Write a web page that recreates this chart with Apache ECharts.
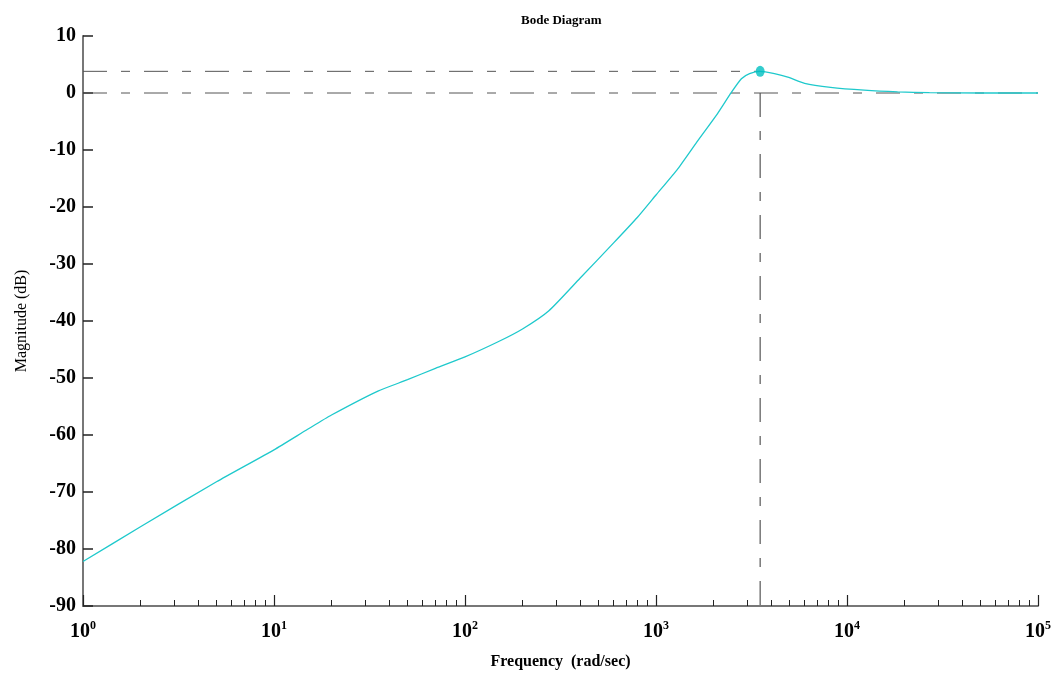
<!DOCTYPE html>
<html><head><meta charset="utf-8">
<script src="https://cdn.jsdelivr.net/npm/echarts@6/dist/echarts.min.js"></script>
<style>html,body{margin:0;padding:0;background:#fff}#c{width:1054px;height:675px}</style>
</head><body><div id="c"></div>
<script>
// ---- data ----
const freq = [1, 2, 5, 10, 15, 20, 35, 50, 70, 100, 150, 200, 275, 400, 600, 800, 1000, 1300, 1660, 2100, 2480, 2800, 3090, 3510, 4170, 4900, 6000, 8200, 12300, 18400, 27000, 50000, 100000];
const magnitude = [-82.2, -76.1, -68.2, -62.6, -59.0, -56.5, -52.3, -50.3, -48.3, -46.3, -43.6, -41.4, -38.2, -32.5, -26.3, -21.8, -17.9, -13.3, -8.3, -3.6, 0.1, 2.5, 3.4, 3.8, 3.4, 2.8, 1.7, 1.0, 0.5, 0.2, 0.05, 0.0, 0.0];
const peakFreq = 3510;
const peakMag = 3.8;
const refMag = 0;
const yTicks = [-90, -80, -70, -60, -50, -40, -30, -20, -10, 0, 10];
const xMajorTicks = [1, 10, 100, 1000, 10000, 100000];
const xMinorTicks = [2,3,4,5,6,7,8,9, 20,30,40,50,60,70,80,90, 200,300,400,500,600,700,800,900, 2000,3000,4000,5000,6000,7000,8000,9000, 20000,30000,40000,50000,60000,70000,80000,90000];
const xMin = 1, xMax = 100000;
const yMin = -90, yMax = 10;
const titleText = 'Bode Diagram';
const xName = 'Frequency  (rad/sec)';
const yName = 'Magnitude (dB)';

const FONT = 'Liberation Serif';
const dashPattern = [24, 14, 9, 14];

const chart = echarts.init(document.getElementById('c'), null, {renderer: 'canvas'});
const curve = freq.map((f, i) => [f, magnitude[i]]);

chart.setOption({
  animation: false,
  backgroundColor: '#fff',
  title: {
    text: titleText, left: 516, top: 9,
    textStyle: {fontFamily: FONT, fontWeight: 'bold', fontSize: 13, color: '#000'}
  },
  grid: {left: 83, right: 13, top: 36, bottom: 68, containLabel: false},
  xAxis: [{
    type: 'log', logBase: 10, min: xMin, max: xMax,
    position: 'bottom',
    name: xName, nameLocation: 'middle', nameGap: 48,
    nameTextStyle: {fontFamily: FONT, fontWeight: 'bold', fontSize: 16, color: '#000'},
    axisLine: {show: true, onZero: false, lineStyle: {color: '#777', width: 2}},
    axisTick: {show: true, inside: true, length: 11, customValues: xMajorTicks, lineStyle: {color: '#222', width: 1.2}},
    axisLabel: {
      show: true, customValues: xMajorTicks, margin: 14,
      formatter: v => '{b|10}{s|' + Math.round(Math.log10(v)) + '}',
      rich: {
        b: {fontFamily: FONT, fontWeight: 'bold', fontSize: 20, color: '#000', lineHeight: 24},
        s: {fontFamily: FONT, fontWeight: 'bold', fontSize: 12, color: '#000', verticalAlign: 'top', lineHeight: 12}
      }
    },
    splitLine: {show: false}, minorTick: {show: false}
  }, {
    type: 'log', logBase: 10, min: xMin, max: xMax,
    position: 'bottom', gridIndex: 0,
    axisLine: {show: false, onZero: false},
    axisTick: {show: true, inside: true, length: 6, customValues: xMinorTicks, lineStyle: {color: '#222', width: 1}},
    axisLabel: {show: false},
    splitLine: {show: false}
  }],
  yAxis: {
    type: 'value', min: yMin, max: yMax, interval: 10,
    name: yName, nameLocation: 'middle', nameGap: 53,
    nameTextStyle: {fontFamily: FONT, fontSize: 16, color: '#000'},
    axisLine: {show: true, onZero: false, lineStyle: {color: '#777', width: 2}},
    axisTick: {show: true, inside: true, length: 10, customValues: yTicks, lineStyle: {color: '#222', width: 1.5}},
    axisLabel: {
      show: true, customValues: yTicks, margin: 7,
      fontFamily: FONT, fontWeight: 'bold', fontSize: 20, color: '#000'
    },
    splitLine: {show: false}
  },
  series: [
    {
      type: 'line', xAxisIndex: 0, symbol: 'none', z: 1, silent: true,
      lineStyle: {color: '#555', width: 1, type: dashPattern},
      data: [[xMin, peakMag], [peakFreq, peakMag]]
    },
    {
      type: 'line', xAxisIndex: 0, symbol: 'none', z: 1, silent: true,
      lineStyle: {color: '#555', width: 1, type: dashPattern},
      data: [[xMin, refMag], [xMax, refMag]]
    },
    {
      type: 'line', xAxisIndex: 0, symbol: 'none', z: 1, silent: true,
      lineStyle: {color: '#555', width: 1.2, type: dashPattern},
      data: [[peakFreq, refMag], [peakFreq, yMin]]
    },
    {
      type: 'line', xAxisIndex: 0, symbol: 'none', z: 3, smooth: 0.2,
      lineStyle: {color: '#1fc9cc', width: 1.3},
      data: curve
    },
    {
      type: 'scatter', xAxisIndex: 0, z: 4, symbol: 'circle', symbolSize: [9, 11],
      itemStyle: {color: '#00bfc0'},
      data: [[peakFreq, peakMag]]
    }
  ]
});
</script>
</body></html>
